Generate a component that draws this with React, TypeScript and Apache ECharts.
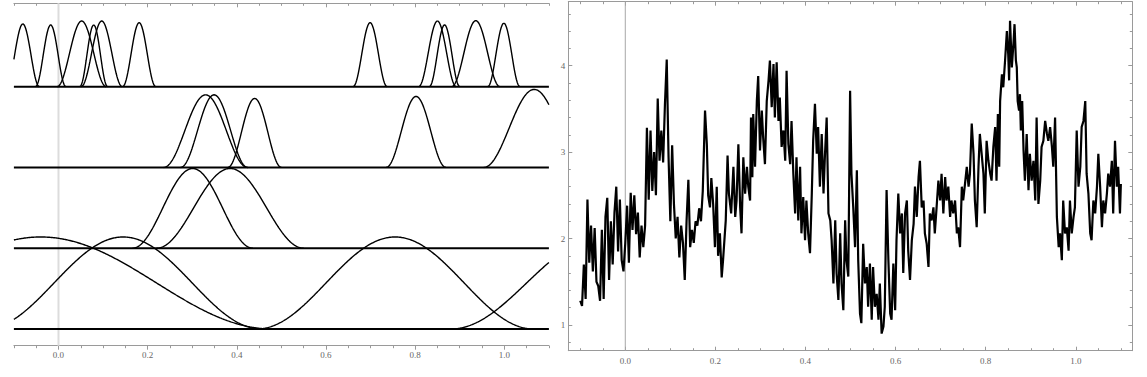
import React, { useEffect, useRef } from "react";
import * as echarts from "echarts";

// ---------- Left panel: bumps on four levels ----------
const baselineLevels = [0, 1, 2, 3];
const bumpLevel = [3, 3, 3, 3, 3, 3, 3, 3, 3, 3, 3, 2, 2, 2, 2, 2, 1, 1, 0, 0, 0, 0];
const bumpCenter = [
  -0.08, -0.0175, 0.052, 0.079, 0.097, 0.181, 0.699, 0.85, 0.866, 0.936, 0.999,
  0.33, 0.349, 0.44, 0.802, 1.067,
  0.301, 0.385,
  -0.04, 0.145, 0.755, 1.22,
];
const bumpHalfWidth = [
  0.037, 0.034, 0.055, 0.031, 0.046, 0.037, 0.038, 0.042, 0.034, 0.054, 0.036,
  0.094, 0.075, 0.06, 0.067, 0.113,
  0.135, 0.165,
  0.52, 0.31, 0.31, 0.34,
];
const bumpHeight = [
  0.776, 0.764, 0.813, 0.764, 0.813, 0.792, 0.792, 0.813, 0.764, 0.817, 0.785,
  0.899, 0.899, 0.854, 0.879, 0.966,
  0.987, 0.987,
  1.139, 1.139, 1.139, 1.139,
];

// ---------- Right panel: noisy path ----------
const walkX = [
  -0.1, -0.096, -0.092, -0.088, -0.084, -0.08, -0.076, -0.072, -0.068, -0.064,
  -0.06, -0.056, -0.052, -0.048, -0.044, -0.04, -0.036, -0.032, -0.028, -0.024,
  -0.02, -0.016, -0.012, -0.008, -0.004, 0.0, 0.004, 0.008, 0.012, 0.016,
  0.02, 0.024, 0.028, 0.032, 0.036, 0.04, 0.044, 0.048, 0.052, 0.056,
  0.06, 0.064, 0.068, 0.072, 0.076, 0.08, 0.084, 0.088, 0.092, 0.096,
  0.1, 0.104, 0.108, 0.112, 0.116, 0.12, 0.124, 0.128, 0.132, 0.136,
  0.14, 0.144, 0.148, 0.152, 0.156, 0.16, 0.164, 0.168, 0.172, 0.177,
  0.181, 0.184, 0.188, 0.191, 0.195, 0.199, 0.203, 0.206, 0.21, 0.214,
  0.217, 0.223, 0.227, 0.23, 0.235, 0.24, 0.244, 0.247, 0.251, 0.255,
  0.258, 0.262, 0.266, 0.27, 0.273, 0.277, 0.279, 0.282, 0.284, 0.288,
  0.292, 0.295, 0.299, 0.303, 0.306, 0.31, 0.314, 0.318, 0.321, 0.325,
  0.329, 0.332, 0.336, 0.34, 0.343, 0.347, 0.351, 0.355, 0.358, 0.362,
  0.366, 0.369, 0.373, 0.377, 0.38, 0.384, 0.388, 0.391, 0.395, 0.399,
  0.402, 0.406, 0.41, 0.414, 0.417, 0.421, 0.425, 0.428, 0.432, 0.436,
  0.44, 0.443, 0.447, 0.451, 0.455, 0.458, 0.462, 0.466, 0.469, 0.473,
  0.477, 0.48, 0.484, 0.488, 0.491, 0.495, 0.499, 0.502, 0.506, 0.51,
  0.514, 0.517, 0.521, 0.524, 0.528, 0.532, 0.536, 0.539, 0.543, 0.547,
  0.55, 0.554, 0.558, 0.562, 0.565, 0.569, 0.573, 0.576, 0.58, 0.584,
  0.588, 0.591, 0.595, 0.599, 0.602, 0.606, 0.61, 0.614, 0.617, 0.621,
  0.625, 0.628, 0.632, 0.636, 0.64, 0.643, 0.647, 0.651, 0.654, 0.658,
  0.662, 0.665, 0.669, 0.673, 0.676, 0.68, 0.684, 0.687, 0.691, 0.695,
  0.699, 0.702, 0.706, 0.71, 0.713, 0.717, 0.721, 0.724, 0.728, 0.732,
  0.736, 0.739, 0.743, 0.747, 0.75, 0.754, 0.758, 0.762, 0.765, 0.769,
  0.773, 0.776, 0.78, 0.784, 0.787, 0.791, 0.795, 0.798, 0.802, 0.806,
  0.81, 0.813, 0.817, 0.821, 0.824, 0.827, 0.83, 0.832, 0.836, 0.839,
  0.843, 0.847, 0.85, 0.852, 0.854, 0.858, 0.862, 0.864, 0.867, 0.869,
  0.871, 0.874, 0.876, 0.878, 0.881, 0.884, 0.887, 0.891, 0.895, 0.898,
  0.902, 0.906, 0.91, 0.913, 0.917, 0.921, 0.924, 0.928, 0.932, 0.936,
  0.939, 0.943, 0.947, 0.95, 0.954, 0.958, 0.962, 0.965, 0.969, 0.972,
  0.976, 0.98, 0.984, 0.987, 0.991, 0.995, 0.998, 1.002, 1.006, 1.01,
  1.013, 1.017, 1.021, 1.024, 1.028, 1.032, 1.035, 1.039, 1.043, 1.047,
  1.05, 1.054, 1.058, 1.061, 1.065, 1.069, 1.072, 1.076, 1.08, 1.083,
  1.087, 1.091, 1.094, 1.098, 1.1,
];
const walkY = [
  1.28, 1.22, 1.7, 1.3, 2.45, 1.72, 2.15, 1.62, 2.12, 1.5,
  1.45, 1.28, 2.1, 1.3, 2.25, 2.47, 1.52, 2.2, 1.7, 2.3,
  2.6, 1.85, 2.45, 1.75, 1.62, 1.95, 2.38, 1.72, 2.53, 2.1,
  2.5, 2.05, 2.3, 1.78, 2.15, 1.9, 2.15, 3.28, 2.45, 3.25,
  2.55, 3.0, 2.5, 3.62, 2.9, 3.25, 2.88, 3.55, 4.07, 2.95,
  2.2, 3.08, 2.4, 2.0, 2.25, 1.78, 2.15, 1.95, 1.52, 2.2,
  2.68, 1.9, 2.1, 1.95, 2.2, 2.15, 2.35, 2.2, 2.55, 3.48,
  3.09, 2.5, 2.36, 2.7, 2.4, 1.9, 2.6, 1.8, 2.06, 1.55,
  1.75, 2.21, 2.96, 2.52, 2.29, 2.83, 2.25, 2.44, 3.09, 2.36,
  2.06, 2.94, 2.52, 2.83, 2.6, 2.44, 3.4, 2.71, 3.44, 2.83,
  3.59, 3.88, 3.02, 3.48, 3.17, 2.86, 3.59, 3.83, 4.06, 3.52,
  4.02, 3.4, 4.04, 3.36, 3.63, 3.06, 3.25, 2.9, 3.94, 3.09,
  2.86, 3.36, 2.75, 2.29, 2.94, 2.21, 2.83, 2.06, 2.48, 1.98,
  2.44, 2.06, 1.83, 2.52, 3.13, 3.56, 2.98, 3.29, 2.6, 3.21,
  2.52, 2.94, 3.4, 2.29, 2.21, 1.98, 1.48, 2.21, 1.6, 1.29,
  2.06, 1.48, 1.17, 2.21, 1.75, 1.56, 3.71, 2.75, 2.36, 1.9,
  2.79, 1.75, 1.13, 1.02, 1.94, 1.48, 1.67, 1.21, 1.71, 1.06,
  1.67, 1.21, 1.36, 1.06, 1.48, 0.9, 0.98, 1.21, 2.56, 1.75,
  1.13, 1.06, 1.71, 1.17, 1.98, 2.52, 2.06, 2.29, 1.6, 2.29,
  2.44, 1.86, 1.52, 1.98, 2.17, 2.6, 2.25, 2.71, 2.9, 2.36,
  2.44, 2.06, 1.94, 1.67, 2.29, 2.21, 2.36, 2.06, 2.36, 2.67,
  2.44, 2.75, 2.29, 2.71, 2.44, 2.6, 2.25, 2.44, 2.29, 2.44,
  2.06, 2.13, 1.9, 2.6, 2.44, 2.63, 2.83, 2.6, 2.75, 3.33,
  2.98, 2.44, 2.13, 2.83, 3.21, 2.98, 2.75, 2.29, 3.13, 2.9,
  2.75, 2.67, 3.06, 3.29, 2.67, 3.44, 2.83, 3.59, 3.9, 3.75,
  4.06, 4.4, 4.13, 3.83, 4.52, 3.98, 4.29, 4.48, 4.06, 3.98,
  3.59, 3.48, 3.67, 3.25, 3.59, 3.02, 2.67, 3.21, 2.56, 2.98,
  2.67, 2.9, 2.44, 3.4, 2.4, 2.67, 3.06, 3.13, 3.36, 3.21,
  3.13, 3.29, 3.06, 2.83, 3.4, 2.25, 1.9, 2.06, 1.75, 2.44,
  2.06, 2.13, 1.86, 2.44, 2.06, 2.25, 2.36, 3.25, 2.6, 2.83,
  3.29, 3.36, 3.59, 2.75, 2.52, 2.06, 1.98, 2.44, 2.29, 2.6,
  2.98, 2.6, 2.13, 2.44, 2.29, 2.52, 2.75, 2.6, 2.9, 2.29,
  3.13, 2.6, 2.83, 2.29, 2.63,
];

// ---------- Ticks ----------
const xMajorTicks = [0, 0.2, 0.4, 0.6, 0.8, 1.0];
const xMinorTicks = [
  -0.1, -0.05, 0, 0.05, 0.1, 0.15, 0.2, 0.25, 0.3, 0.35, 0.4, 0.45, 0.5,
  0.55, 0.6, 0.65, 0.7, 0.75, 0.8, 0.85, 0.9, 0.95, 1.0, 1.05, 1.1,
];
const yMajorTicks = [1, 2, 3, 4];
const yMinorTicks = [
  0.8, 1.0, 1.2, 1.4, 1.6, 1.8, 2.0, 2.2, 2.4, 2.6, 2.8, 3.0, 3.2, 3.4,
  3.6, 3.8, 4.0, 4.2, 4.4, 4.6,
];

const FRAME = "#9a9a9a";
const LABEL = { fontFamily: "Liberation Serif", fontSize: 9, color: "#666" };

function xAxisDef(gridIndex: number, position: string, ticks: number[], len: number, inside: boolean, showLine: boolean, labels: boolean, min: number, max: number, margin = 5) {
  return {
    type: "value",
    gridIndex,
    position,
    min,
    max,
    axisLine: { show: showLine, onZero: false, lineStyle: { color: FRAME, width: 1 } },
    axisTick: { show: true, inside, length: len, customValues: ticks, lineStyle: { color: FRAME, width: 1 } },
    axisLabel: labels
      ? { show: true, customValues: xMajorTicks, formatter: (v: number) => v.toFixed(1), margin, ...LABEL }
      : { show: false },
    splitLine: { show: false },
  };
}

function yAxisDef(gridIndex: number, position: string, ticks: number[], len: number, showLine: boolean, labels: boolean, min: number, max: number) {
  return {
    type: "value",
    gridIndex,
    position,
    min,
    max,
    axisLine: { show: showLine, onZero: false, lineStyle: { color: FRAME, width: 1 } },
    axisTick: { show: true, inside: true, length: len, customValues: ticks, lineStyle: { color: FRAME, width: 1 } },
    axisLabel: labels
      ? { show: true, customValues: yMajorTicks, formatter: (v: number) => String(v), margin: 3, ...LABEL }
      : { show: false },
    splitLine: { show: false },
  };
}

const LX_MIN = -0.1, LX_MAX = 1.1, LY_MIN = -0.207, LY_MAX = 4.032;
const RX_MIN = -0.1265, RX_MAX = 1.1254, RY_MIN = 0.702, RY_MAX = 4.74;

function bumpSeries(i: number) {
  const c = bumpCenter[i], w = bumpHalfWidth[i], h = bumpHeight[i], base = bumpLevel[i];
  const a = Math.max(LX_MIN, c - w), b = Math.min(LX_MAX, c + w);
  const n = Math.max(30, Math.ceil((b - a) / 0.002));
  const pts: number[][] = [];
  for (let k = 0; k <= n; k++) {
    const x = a + ((b - a) * k) / n;
    pts.push([x, base + (h * (1 + Math.cos((Math.PI * (x - c)) / w))) / 2]);
  }
  return {
    type: "line", xAxisIndex: 0, yAxisIndex: 0, data: pts, showSymbol: false, symbol: "none",
    lineStyle: { color: "#000", width: 1.4 }, z: 3, silent: true,
  };
}

function buildOption() {
  const series: any[] = [];
  series.push({
    type: "line", xAxisIndex: 0, yAxisIndex: 0, data: [[0, LY_MIN], [0, LY_MAX]], symbol: "none",
    lineStyle: { color: "#dcdcdc", width: 2 }, z: 1, silent: true,
  });
  series.push({
    type: "line", xAxisIndex: 4, yAxisIndex: 1, data: [[0, RY_MIN], [0, RY_MAX]], symbol: "none",
    lineStyle: { color: "#a8a8a8", width: 1 }, z: 1, silent: true,
  });
  baselineLevels.forEach((lv) => {
    series.push({
      type: "line", xAxisIndex: 0, yAxisIndex: 0, data: [[LX_MIN, lv], [LX_MAX, lv]], symbol: "none",
      lineStyle: { color: "#000", width: 2 }, z: 2, silent: true,
    });
  });
  for (let i = 0; i < bumpCenter.length; i++) series.push(bumpSeries(i));
  series.push({
    type: "line", xAxisIndex: 4, yAxisIndex: 1, data: walkX.map((x, i) => [x, walkY[i]]),
    symbol: "none", showSymbol: false, lineStyle: { color: "#000", width: 2.2, join: "miter", miterLimit: 2 }, z: 3, silent: true,
  });

  return {
    animation: false,
    backgroundColor: "#fff",
    grid: [
      { left: 13.9, top: 3.3, width: 535, height: 342.4, containLabel: false },
      { left: 568.3, top: 1.7, width: 564, height: 349, containLabel: false },
    ],
    xAxis: [
      xAxisDef(0, "bottom", xMajorTicks, 4, false, true, true, LX_MIN, LX_MAX, 5),
      xAxisDef(0, "bottom", xMinorTicks, 2.5, false, false, false, LX_MIN, LX_MAX),
      xAxisDef(0, "top", xMajorTicks, 4, true, true, false, LX_MIN, LX_MAX),
      xAxisDef(0, "top", xMinorTicks, 2.5, true, false, false, LX_MIN, LX_MAX),
      xAxisDef(1, "bottom", xMajorTicks, 4, true, true, true, RX_MIN, RX_MAX, 6),
      xAxisDef(1, "bottom", xMinorTicks, 2.5, true, false, false, RX_MIN, RX_MAX),
      xAxisDef(1, "top", xMajorTicks, 4, true, true, false, RX_MIN, RX_MAX),
      xAxisDef(1, "top", xMinorTicks, 2.5, true, false, false, RX_MIN, RX_MAX),
    ],
    yAxis: [
      { type: "value", gridIndex: 0, min: LY_MIN, max: LY_MAX, show: false },
      yAxisDef(1, "left", yMajorTicks, 4, true, true, RY_MIN, RY_MAX),
      yAxisDef(1, "left", yMinorTicks, 2.5, false, false, RY_MIN, RY_MAX),
      yAxisDef(1, "right", yMajorTicks, 4, true, false, RY_MIN, RY_MAX),
      yAxisDef(1, "right", yMinorTicks, 2.5, false, false, RY_MIN, RY_MAX),
    ],
    series,
  };
}

export default function App() {
  const ref = useRef<HTMLDivElement>(null);
  useEffect(() => {
    if (!ref.current) return;
    const chart = echarts.init(ref.current, undefined, { renderer: "svg" });
    chart.setOption(buildOption() as any);
    return () => chart.dispose();
  }, []);
  return (
    <div
      ref={ref}
      style={{ position: "fixed", left: 0, top: 0, width: 1147, height: 377, background: "#fff" }}
    />
  );
}
